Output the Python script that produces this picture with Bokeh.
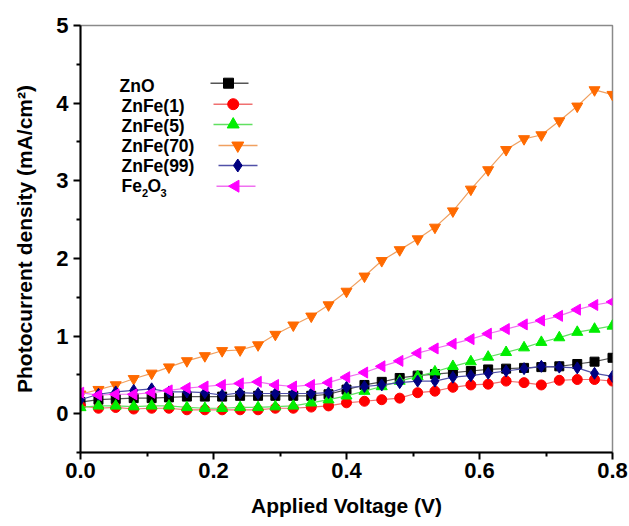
from bokeh.plotting import figure
from bokeh.models import Range1d, FixedTicker, Label
from bokeh.embed import file_html
from bokeh.resources import INLINE

# ---------------- data ----------------
voltage = [0.000, 0.027, 0.053, 0.080, 0.107, 0.133, 0.160, 0.187, 0.213, 0.240,
           0.267, 0.293, 0.320, 0.347, 0.373, 0.400, 0.427, 0.453, 0.480, 0.507,
           0.533, 0.560, 0.587, 0.613, 0.640, 0.667, 0.693, 0.720, 0.747, 0.773, 0.800]

zno = [0.15, 0.18, 0.19, 0.20, 0.20, 0.21, 0.22, 0.22, 0.22, 0.23, 0.23, 0.23, 0.23, 0.23,
       0.25, 0.31, 0.37, 0.41, 0.46, 0.49, 0.51, 0.53, 0.55, 0.57, 0.58, 0.59, 0.60, 0.61,
       0.64, 0.67, 0.72]
znfe1 = [0.10, 0.07, 0.08, 0.06, 0.07, 0.07, 0.05, 0.05, 0.05, 0.05, 0.05, 0.07, 0.07, 0.085,
         0.10, 0.14, 0.16, 0.18, 0.20, 0.27, 0.29, 0.34, 0.37, 0.38, 0.42, 0.40, 0.37, 0.43,
         0.44, 0.44, 0.42]
znfe5 = [0.08, 0.10, 0.10, 0.09, 0.10, 0.10, 0.08, 0.07, 0.07, 0.08, 0.08, 0.09, 0.10, 0.14,
         0.18, 0.23, 0.29, 0.35, 0.42, 0.48, 0.54, 0.61, 0.67, 0.73, 0.79, 0.85, 0.92, 0.98,
         1.05, 1.09, 1.13]
znfe70 = [0.25, 0.31, 0.37, 0.45, 0.52, 0.60, 0.68, 0.745, 0.81, 0.82, 0.885, 1.02, 1.14, 1.255,
          1.40, 1.575, 1.77, 1.97, 2.11, 2.25, 2.40, 2.61, 2.89, 3.14, 3.40, 3.54, 3.59, 3.77,
          3.96, 4.17, 4.11]
znfe99 = [0.18, 0.25, 0.28, 0.30, 0.32, 0.28, 0.28, 0.27, 0.24, 0.27, 0.26, 0.26, 0.26, 0.26,
          0.27, 0.34, 0.35, 0.37, 0.40, 0.42, 0.42, 0.47, 0.49, 0.52, 0.55, 0.58, 0.61, 0.60,
          0.59, 0.52, 0.48]
fe2o3 = [0.27, 0.24, 0.25, 0.25, 0.27, 0.30, 0.33, 0.35, 0.37, 0.39, 0.41, 0.37, 0.35, 0.37,
         0.40, 0.47, 0.53, 0.61, 0.68, 0.78, 0.84, 0.90, 0.96, 1.03, 1.09, 1.15, 1.20, 1.26,
         1.34, 1.40, 1.44]

series_names = ["ZnO", "ZnFe(1)", "ZnFe(5)", "ZnFe(70)", "ZnFe(99)", "Fe2O3"]
series_values = [zno, znfe1, znfe5, znfe70, znfe99, fe2o3]

x_ticks = [0.0, 0.2, 0.4, 0.6, 0.8]
x_tick_labels = ["0.0", "0.2", "0.4", "0.6", "0.8"]
x_minor = [0.1, 0.3, 0.5, 0.7]
y_ticks = [0, 1, 2, 3, 4, 5]
y_minor = [-0.5, 0.5, 1.5, 2.5, 3.5, 4.5]

x_title = "Applied Voltage (V)"
y_title = "Photocurrent density (mA/cm\u00b2)"

# ---------------- styles ----------------
marker_types = ["square", "circle", "triangle", "inverted_triangle", "diamond", "triangle"]
marker_angles = [0, 0, 0, 0, 0, 1.5708]
marker_colors = ["#000000", "#ff0000", "#00ee00", "#ff6a00", "#000080", "#ff00ff"]
line_colors = ["#555555", "#f07070", "#60e060", "#f0a060", "#5050a8", "#f070f0"]
marker_sizes = [9, 10, 11, 11, 12, 11]

FONT = "Liberation Sans"

W, H = 629, 526
BL, BR, BT, BB = 80, 17, 25, 74
XMIN, XMAX, YMIN, YMAX = 0.0, 0.8, -0.5, 5.0

p = figure(width=W, height=H, x_range=Range1d(XMIN, XMAX), y_range=Range1d(YMIN, YMAX),
           output_backend="svg", toolbar_location=None,
           min_border_left=BL, min_border_right=BR, min_border_top=BT, min_border_bottom=BB)
p.background_fill_color = "white"
p.border_fill_color = "white"
p.xgrid.visible = False
p.ygrid.visible = False
p.outline_line_color = "#8a8a8a"
p.outline_line_width = 1.5

for ax, ticks, minor in ((p.xaxis[0], x_ticks, x_minor), (p.yaxis[0], y_ticks, y_minor)):
    ax.ticker = FixedTicker(ticks=ticks, minor_ticks=minor)
    ax.axis_line_color = "black"
    ax.axis_line_width = 2
    ax.major_tick_line_color = "black"
    ax.major_tick_line_width = 2
    ax.minor_tick_line_color = "black"
    ax.minor_tick_line_width = 2
    ax.major_tick_in = 0
    ax.major_tick_out = 7
    ax.minor_tick_in = 0
    ax.minor_tick_out = 4
    ax.major_label_text_font = FONT
    ax.major_label_text_font_style = "bold"
    ax.major_label_text_font_size = "22px"
    ax.major_label_text_color = "black"
    ax.axis_label_text_font = FONT
    ax.axis_label_text_font_style = "bold"
    ax.axis_label_text_font_size = "21px"
    ax.axis_label_text_color = "black"

p.xaxis.major_label_overrides = dict(zip(x_ticks, x_tick_labels))
p.xaxis.major_label_standoff = 3
p.yaxis.major_label_standoff = 5
p.xaxis.axis_label = x_title
p.xaxis.axis_label_standoff = 13
p.yaxis.axis_label = y_title
p.yaxis.axis_label_standoff = 17

for vals, mk, ang, mc, lc, ms in zip(series_values, marker_types, marker_angles,
                                     marker_colors, line_colors, marker_sizes):
    p.line(voltage, vals, line_color=lc, line_width=1.2)
    p.scatter(voltage, vals, marker=mk, angle=ang, size=ms, fill_color=mc, line_color=mc)

# ---------------- pixel -> data helpers for legend placement ----------------
fw = W - BL - BR
fh = H - BT - BB

def dx(px):
    return XMIN + (px - BL) / fw * (XMAX - XMIN)

def dy(py):
    return YMAX - (py - BT) / fh * (YMAX - YMIN)

# ---------------- legend (drawn by hand, labels left, samples right) ----------------
label_px = [(119, 85), (121, 105), (121, 125), (121, 145.7), (121, 165.7), (121, 185.7)]
sample_px = [(210, 248, 228, 82.7), (213, 252, 232.7, 103.7), (213, 252, 232.7, 124),
             (218, 257, 237.3, 145), (218, 257, 237.3, 165), (216, 255, 235, 185.7)]

for i, name in enumerate(series_names):
    lx, ly = label_px[i]
    if name == "Fe2O3":
        parts = [("Fe", 0, 0, "17.5px"), ("2", 20.5, 7, "11px"), ("O", 26, 0, "17.5px"),
                 ("3", 39, 7, "11px")]
        for txt, ox, oy, fs in parts:
            p.add_layout(Label(x=dx(lx), y=dy(ly), x_offset=ox, y_offset=-oy, text=txt,
                               text_font=FONT, text_font_style="bold", text_font_size=fs,
                               text_baseline="middle", text_align="left", text_color="black"))
    else:
        p.add_layout(Label(x=dx(lx), y=dy(ly), text=name, text_font=FONT,
                           text_font_style="bold", text_font_size="17.5px",
                           text_baseline="middle", text_align="left", text_color="black"))
    x0, x1, xm, sy = sample_px[i]
    p.line([dx(x0), dx(x1)], [dy(sy), dy(sy)], line_color=line_colors[i], line_width=1.5)
    p.scatter([dx(xm)], [dy(sy)], marker=marker_types[i], angle=marker_angles[i],
              size=marker_sizes[i] + 1, fill_color=marker_colors[i], line_color=marker_colors[i])

open("out.html", "w").write(file_html(p, INLINE))
